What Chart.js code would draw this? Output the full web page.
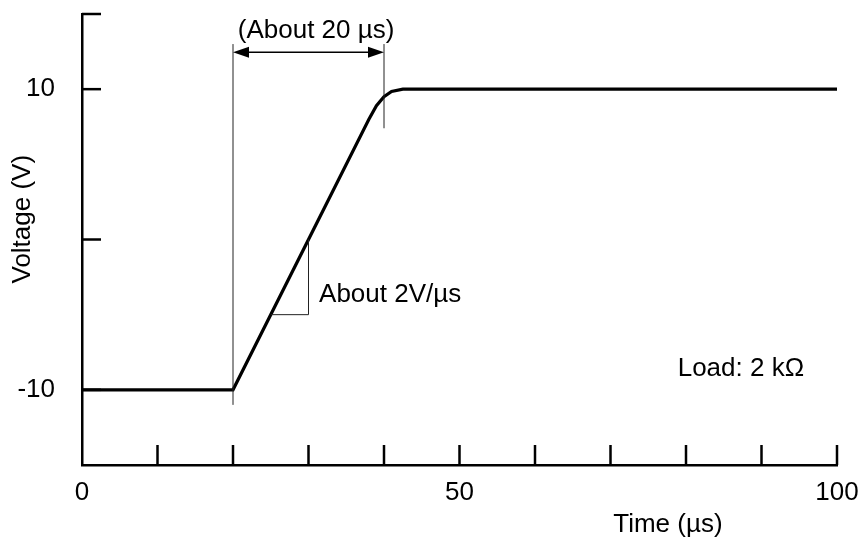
<!DOCTYPE html>
<html lang="en">
<head>
    <meta charset="UTF-8">
    <title>Voltage vs Time</title>
    <script src="https://cdn.jsdelivr.net/npm/chart.js"></script>
    <style>
        html, body { margin: 0; padding: 0; background: #ffffff; }
        #wrap { width: 863px; height: 538px; }
    </style>
</head>
<body>
    <div id="wrap"><canvas id="riseChart" width="863" height="538"></canvas></div>

    <script>
        // waveform
        const timeUs  = [0, 20, 38, 39, 40, 41, 42.5, 100];
        const voltage = [-10, -10, 8, 8.9, 9.5, 9.85, 10, 10];

        // axis ticks
        const xTicks = [0, 10, 20, 30, 40, 50, 60, 70, 80, 90, 100];
        const xLabels = [0, 50, 100];
        const yTicks = [-15, -10, 0, 10, 15];
        const yLabels = [-10, 10];

        const FONT = '"Liberation Sans", Arial, sans-serif';
        const FS = 26;

        // draws the inward ticks, axis titles and the annotations
        const notes = {
            id: 'notes',
            afterDraw(chart) {
                const c = chart.ctx;
                const xs = chart.scales.x, ys = chart.scales.y;
                const X = v => xs.getPixelForValue(v);
                const Y = v => ys.getPixelForValue(v);
                const area = chart.chartArea;

                c.save();
                c.strokeStyle = '#000';
                c.lineCap = 'butt';

                // inward tick marks
                c.lineWidth = 2.5;
                xTicks.slice(1).forEach(t => {
                    c.beginPath();
                    c.moveTo(X(t), area.bottom);
                    c.lineTo(X(t), area.bottom - 20);
                    c.stroke();
                });
                yTicks.slice(1).forEach(t => {
                    c.beginPath();
                    c.moveTo(area.left, Y(t));
                    c.lineTo(area.left + 19, Y(t));
                    c.stroke();
                });

                // thin marker lines
                c.lineWidth = 1;
                c.strokeStyle = '#222';
                c.beginPath();
                c.moveTo(X(20), Y(13)); c.lineTo(X(20), Y(-11));
                c.moveTo(X(40), Y(13)); c.lineTo(X(40), Y(7.4));
                // slope triangle
                c.moveTo(X(30), Y(0)); c.lineTo(X(30), Y(-5)); c.lineTo(X(25), Y(-5));
                c.stroke();

                // double arrow
                const ay = Y(12.45), a0 = X(20), a1 = X(40);
                c.strokeStyle = '#000';
                c.lineWidth = 1.5;
                c.beginPath();
                c.moveTo(a0 + 4, ay); c.lineTo(a1 - 4, ay);
                c.stroke();
                c.fillStyle = '#000';
                c.beginPath();
                c.moveTo(a0, ay); c.lineTo(a0 + 16, ay - 5.5); c.lineTo(a0 + 16, ay + 5.5); c.closePath();
                c.moveTo(a1, ay); c.lineTo(a1 - 16, ay - 5.5); c.lineTo(a1 - 16, ay + 5.5); c.closePath();
                c.fill();

                // texts
                c.fillStyle = '#000';
                c.font = FS + 'px ' + FONT;
                c.textBaseline = 'middle';
                c.textAlign = 'center';
                c.fillText('(About 20 \u00b5s)', X(31), Y(13.85));
                c.textAlign = 'left';
                c.fillText('About 2V/\u00b5s', X(31.4), Y(-3.7));
                c.fillText('Load: 2 k\u03a9', X(78.9), Y(-8.6));

                // axis titles
                c.textAlign = 'center';
                c.fillText('Time (\u00b5s)', X(77.6), area.bottom + 60);
                c.translate(23, Y(1.35));
                c.rotate(-Math.PI / 2);
                c.fillText('Voltage (V)', 0, 0);
                c.restore();
            }
        };

        new Chart(document.getElementById('riseChart').getContext('2d'), {
            type: 'line',
            data: {
                datasets: [{
                    label: 'Output voltage',
                    data: timeUs.map((t, i) => ({ x: t, y: voltage[i] })),
                    borderColor: '#000',
                    borderWidth: 3.2,
                    pointRadius: 0,
                    tension: 0,
                    fill: false
                }]
            },
            options: {
                responsive: false,
                animation: false,
                layout: { padding: { top: 14, right: 26, left: 0, bottom: 0 } },
                plugins: { legend: { display: false }, tooltip: { enabled: false } },
                scales: {
                    x: {
                        type: 'linear',
                        min: 0, max: 100,
                        afterBuildTicks: s => { s.ticks = xTicks.map(v => ({ value: v })); },
                        afterFit: s => { s.height = 73; s.paddingLeft = 0; s.paddingRight = 0; },
                        ticks: {
                            autoSkip: false,
                            maxRotation: 0,
                            padding: 12,
                            color: '#000',
                            font: { family: FONT, size: FS },
                            callback: v => xLabels.includes(v) ? String(v) : ''
                        },
                        grid: { display: false, drawTicks: false },
                        border: { display: true, color: '#000', width: 2.5 }
                    },
                    y: {
                        min: -15, max: 15,
                        afterBuildTicks: s => { s.ticks = yTicks.map(v => ({ value: v })); },
                        afterFit: s => { s.width = 82; s.paddingTop = 0; s.paddingBottom = 0; },
                        ticks: {
                            autoSkip: false,
                            padding: 27,
                            color: '#000',
                            font: { family: FONT, size: FS },
                            callback: v => yLabels.includes(v) ? String(v) : ''
                        },
                        grid: { display: false, drawTicks: false },
                        border: { display: true, color: '#000', width: 2.5 }
                    }
                }
            },
            plugins: [notes]
        });
    </script>
</body>
</html>
